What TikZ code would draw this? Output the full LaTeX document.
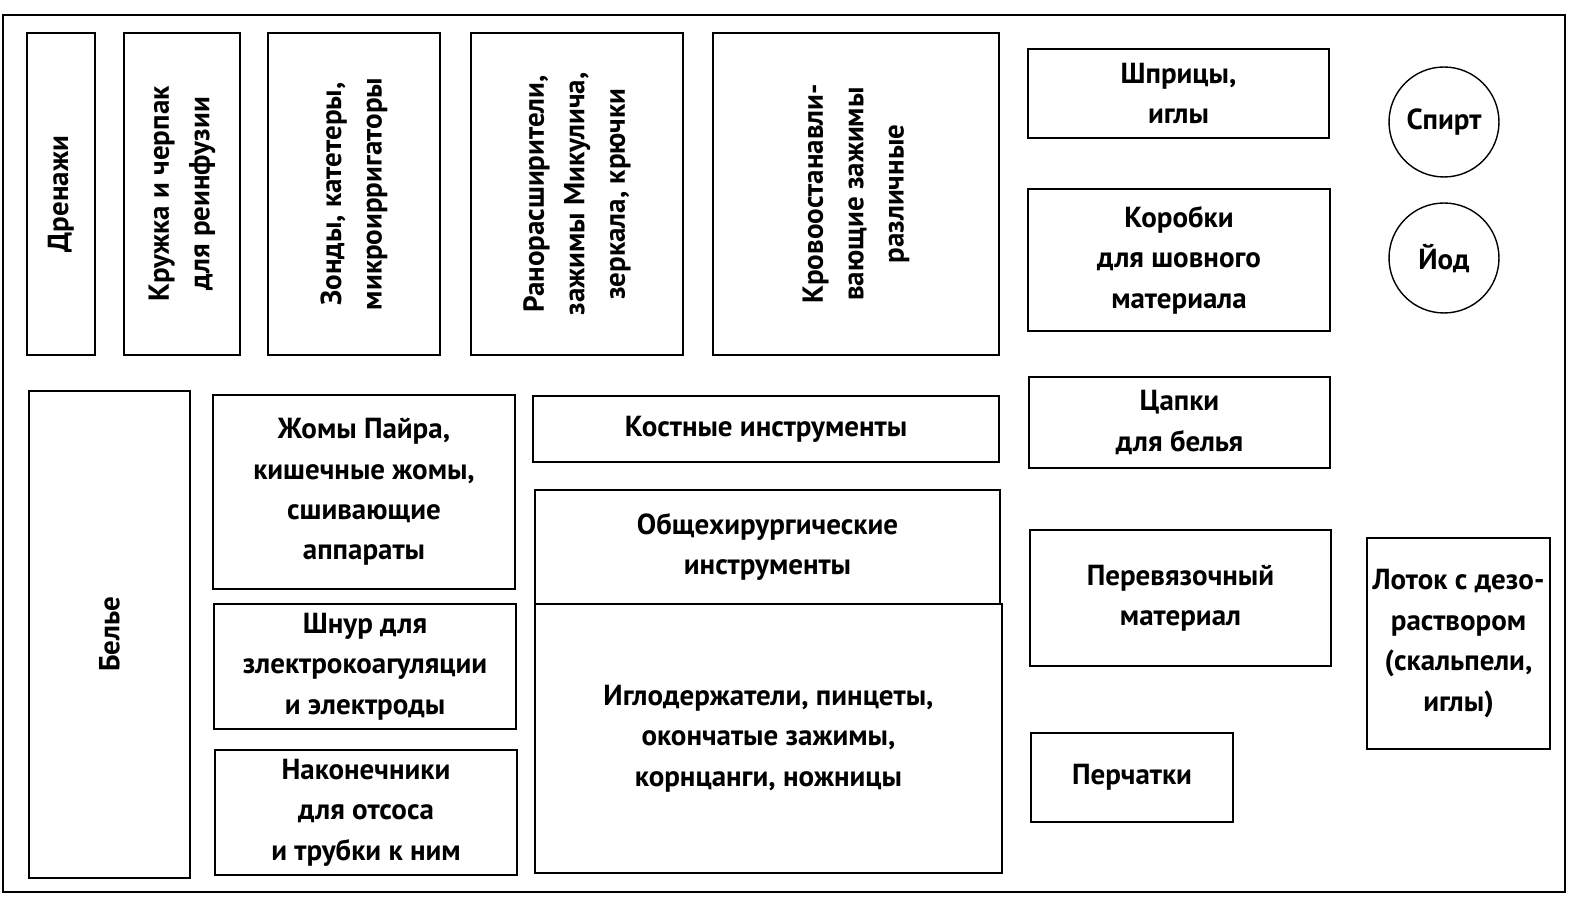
\documentclass[tikz,border=0pt]{standalone}
\usepackage{fontspec}
\setmainfont{PT Sans}
\usetikzlibrary{positioning}
\tikzset
{
	my round/.style={draw,thick,circle,minimum size=2.2cm,font=\bfseries\fontsize{16.5}{23}\selectfont,inner sep=0pt}
}
% box from corner (x1,y1) to (x2,y2), pixel units
\newcommand\bx[7][]{%
	\draw[thick] (#3,#4) rectangle (#5,#6);
	\node[align=center,font=\bfseries\fontsize{16.5}{23}\selectfont,#1] (#2) at ({(#3+#5)/2},{(#4+#6)/2}) {#7};}
\begin{document}
\begin{tikzpicture}[x=0.02cm,y=-0.02cm]
		\useasboundingbox (0,0) rectangle (1587,908);
		% frame
		\draw[thick] (3,15) -- (1565,15) -- (1565,892) -- (3,892) -- cycle;
		% top row
		\bx[rotate=90]{drain}{27}{33}{95}{355}{Дренажи}
		\bx[rotate=90]{mug}{124}{33}{240}{355}{Кружка и черпак\\для реинфузии}
		\bx[rotate=90]{probe}{268}{33}{440}{355}{Зонды, катетеры,\\микроирригаторы}
		\bx[rotate=90]{retr}{471}{33}{683}{355}{Ранорасширители,\\зажимы Микулича,\\зеркала, крючки}
		\bx[rotate=90]{clamp}{713}{33}{999}{355}{Кровоостанавли-\\вающие зажимы\\различные}
		% right column
		\bx{syr}{1028}{49}{1329}{138}{Шприцы,\\иглы}
		\bx{suture}{1028}{189}{1330}{331}{Коробки\\для шовного\\материала}
		\bx{towel}{1029}{377}{1330}{468}{Цапки\\для белья}
		\bx{dress}{1030}{530}{1331}{666}{Перевязочный\\материал}
		\bx{glove}{1031}{733}{1233}{822}{Перчатки}
		\bx[inner sep=0pt]{tray}{1367}{538}{1550}{749}{Лоток с дезо-\\раствором\\(скальпели,\\иглы)}
		\node[my round] (alc) at (1444,122) {Спирт};
		\node[my round] (iod) at (1444,258) {Йод};
		% lower left
		\bx[rotate=90]{linen}{29}{391}{190}{878}{Белье}
		\bx{payr}{213}{395}{515}{589}{Жомы Пайра,\\кишечные жомы,\\сшивающие\\аппараты}
		\bx[inner sep=0pt]{cord}{214}{604}{516}{729}{Шнур для\\злектрокоагуляции\\и электроды}
		\bx{tip}{215}{750}{517}{875}{Наконечники\\для отсоса\\и трубки к ним}
		% centre
		\bx{bone}{533}{396}{999}{462}{Костные инструменты}
		\bx{gen}{535}{490}{1000}{604}{Общехирургические\\инструменты}
		\bx{needle}{535}{604}{1002}{873}{Иглодержатели, пинцеты,\\окончатые зажимы,\\корнцанги, ножницы}
	\end{tikzpicture}
\end{document}
